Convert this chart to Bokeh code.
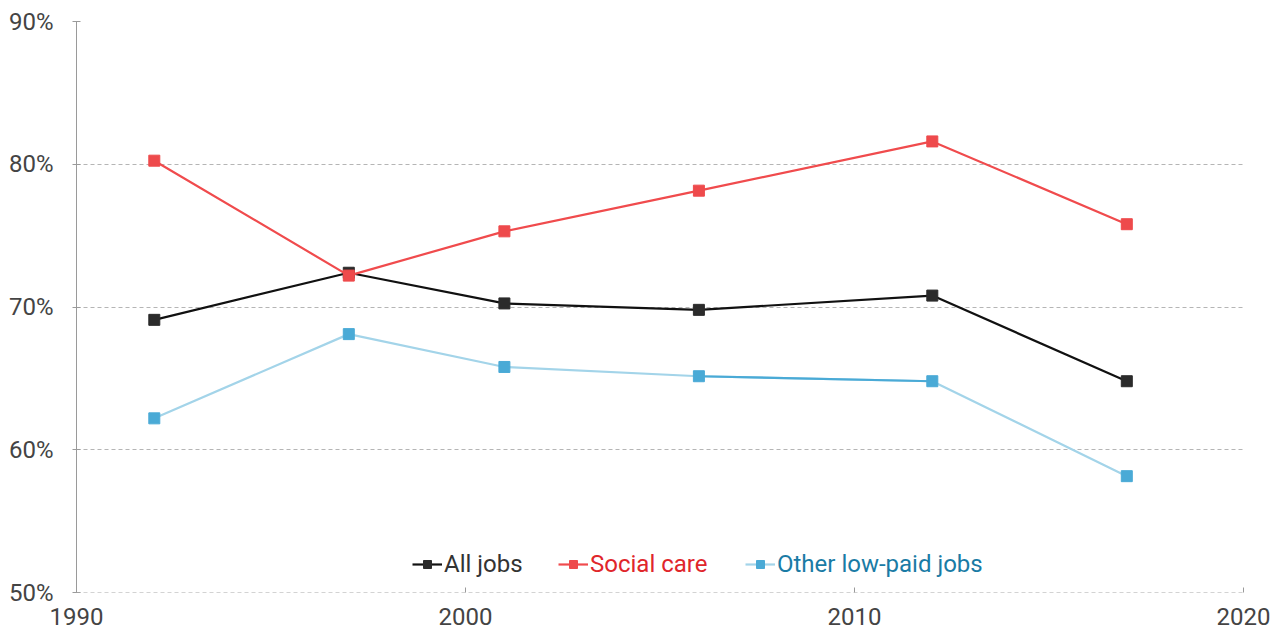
from bokeh.plotting import figure
from bokeh.models import (Range1d, FixedTicker, PrintfTickFormatter, Legend,
                          LegendItem, ColumnDataSource, Span)
from bokeh.embed import file_html
from bokeh.resources import INLINE

years = [1992, 1997, 2001, 2006, 2012, 2017]
all_jobs = [69.1, 72.4, 70.25, 69.8, 70.8, 64.8]
social_care = [80.25, 72.2, 75.3, 78.15, 81.6, 75.8]
other_low_paid = [62.2, 68.1, 65.8, 65.15, 64.8, 58.15]

x_ticks = [1990, 2000, 2010, 2020]
y_ticks = [50, 60, 70, 80, 90]

FONT = "Roboto"
TEXT = "#444444"

p = figure(width=1282, height=633, output_backend="svg", toolbar_location=None,
           x_range=Range1d(1990, 2020), y_range=Range1d(50, 90),
           min_border_left=76, min_border_right=39, min_border_top=21,
           min_border_bottom=41)
p.outline_line_color = None
p.background_fill_color = "white"
p.border_fill_color = "white"

p.xgrid.grid_line_color = None
p.ygrid.ticker = FixedTicker(ticks=y_ticks)
p.ygrid.grid_line_color = "#b5b5b5"
p.ygrid.grid_line_dash = "4 3"
p.ygrid.grid_line_width = 1

# dashed baseline along the bottom of the frame
p.add_layout(Span(location=y_ticks[0], dimension="width", line_color="#a8a8a8",
                  line_dash="4 3", line_width=1.2))

p.yaxis.ticker = FixedTicker(ticks=y_ticks)
p.yaxis.formatter = PrintfTickFormatter(format="%d%%")
p.yaxis.axis_line_color = "#9a9a9a"
p.yaxis.major_tick_line_color = "#9a9a9a"
p.yaxis.major_tick_in = 4
p.yaxis.major_tick_out = 4
p.yaxis.minor_tick_line_color = None
p.yaxis.major_label_standoff = 19

p.xaxis.ticker = FixedTicker(ticks=x_ticks)
p.xaxis.axis_line_color = None
p.xaxis.major_tick_line_color = "#9a9a9a"
p.xaxis.major_tick_in = 5
p.xaxis.major_tick_out = 0
p.xaxis.minor_tick_line_color = None
p.xaxis.major_label_standoff = 15

for ax in (p.xaxis, p.yaxis):
    ax.major_label_text_font = FONT
    ax.major_label_text_font_size = "24px"
    ax.major_label_text_color = TEXT

def series(ys, line_color, marker_color):
    src = ColumnDataSource(dict(x=years, y=ys))
    ln = p.line("x", "y", source=src, line_color=line_color, line_width=2.2)
    mk = p.scatter("x", "y", source=src, marker="square", size=11,
                   fill_color=marker_color, line_color=marker_color)
    return ln, mk

r_other = series(other_low_paid, "#a3d4e9", "#4aaad6")
# the 2006-2012 stretch of the low-paid line is drawn in the stronger blue
p.line(years[3:5], other_low_paid[3:5], line_color="#4aaad6", line_width=2.2)
r_all = series(all_jobs, "#111111", "#2b2b2b")
r_social = series(social_care, "#f04b4d", "#ee4a4c")

def add_legend(label, renderers, color, x):
    leg = Legend(items=[LegendItem(label=label, renderers=list(renderers))],
                 location=(x, 14), orientation="horizontal",
                 background_fill_alpha=0, border_line_color=None,
                 padding=0, margin=0, spacing=0,
                 glyph_width=30, glyph_height=20, label_standoff=2,
                 label_text_font=FONT, label_text_font_size="24px",
                 label_text_color=color, label_height=20)
    p.add_layout(leg, "center")

add_legend("All jobs", r_all, "#333333", 336)
add_legend("Social care", r_social, "#e0262b", 482)
add_legend("Other low-paid jobs", r_other, "#1a7ba5", 669)

open("out.html", "w").write(file_html(p, INLINE))
